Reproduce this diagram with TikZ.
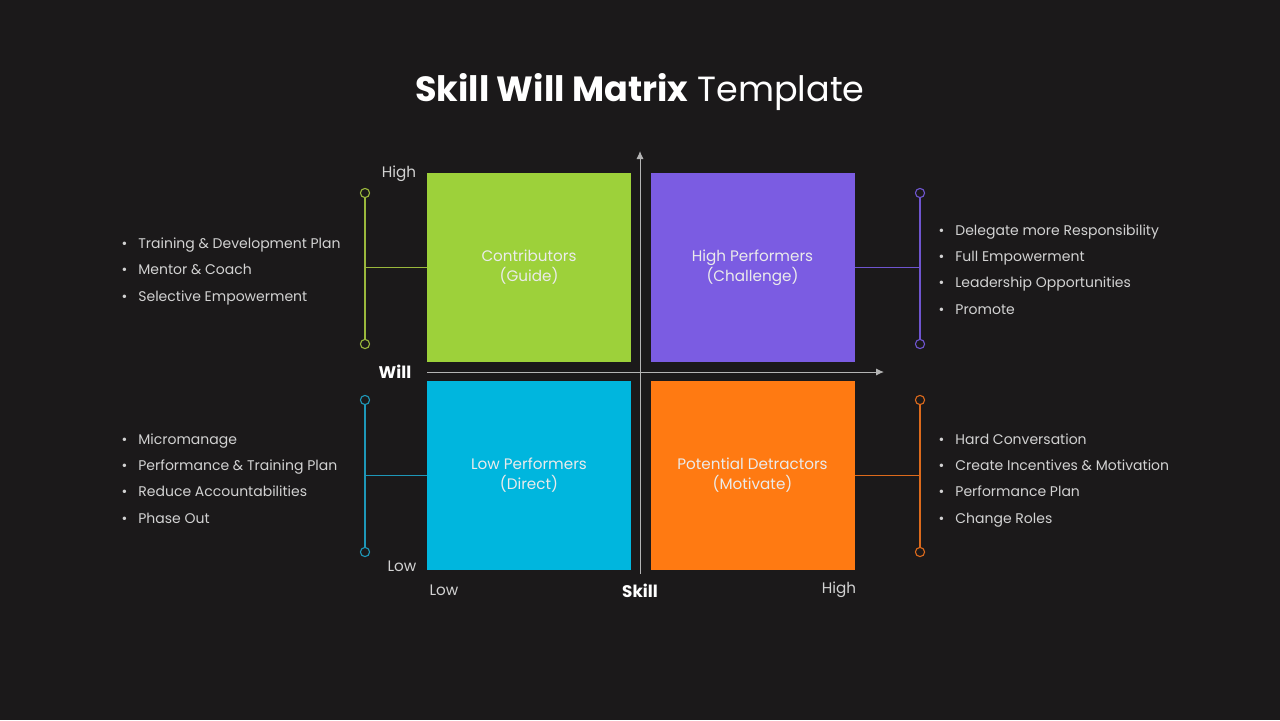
\documentclass[tikz,border=0pt]{standalone}
\usepackage{fontspec}
\setmainfont{Poppins}
\usetikzlibrary{arrows.meta}

\definecolor{bg}{HTML}{1B191A}
\definecolor{cgreen}{HTML}{9DD13A}
\definecolor{cpurple}{HTML}{7B5CE2}
\definecolor{ccyan}{HTML}{00B6DE}
\definecolor{corange}{HTML}{FF7A12}
\definecolor{lgreen}{HTML}{9AB83C}
\definecolor{lpurple}{HTML}{6F55D0}
\definecolor{lcyan}{HTML}{1E97B8}
\definecolor{lorange}{HTML}{DD6A1C}
\definecolor{txtgrey}{HTML}{D2D2D2}
\definecolor{axisgrey}{HTML}{B4B4B4}

\begin{document}
\begin{tikzpicture}[x=0.5pt,y=-0.5pt,
  quad/.style={minimum width=102pt,minimum height=94.5pt,inner sep=0pt,align=center,
    font=\fontsize{7.6}{10}\selectfont,text=white!92!black},
  axis/.style={axisgrey,line width=0.5pt,-{Latex[length=4pt,width=3.6pt]}},
  ring/.style={circle,draw,line width=0.55pt,minimum size=4.6pt,inner sep=0pt},
  link/.style={line width=0.55pt},
  item/.style={anchor=west,inner sep=0pt,text height=5.2pt,text depth=0pt,
    text=txtgrey,font=\fontsize{7.0}{9}\selectfont},
  tick/.style={inner sep=0pt,text=txtgrey,font=\fontsize{7.6}{9}\selectfont},
  axlabel/.style={inner sep=0pt,text=white,font=\fontsize{8.4}{10}\selectfont\bfseries}]

% Background
\fill[bg] (0,0) rectangle (1280,720);

% Title
\node[text=white,font=\fontsize{17.5}{21}\selectfont] (title) at (640,92)
{\textbf{Skill Will Matrix} Template};

% Quadrants
\node[quad,fill=cgreen] (contrib) at (529,267.5) {Contributors\\(Guide)};
\node[quad,fill=cpurple] (highperf) at (752.5,267.5) {High Performers\\(Challenge)};
\node[quad,fill=ccyan] (lowperf) at (529,475.5) {Low Performers\\(Direct)};
\node[quad,fill=corange] (detract) at (752.5,475.5) {Potential Detractors\\(Motivate)};

% Axes
\coordinate (skillfrom) at (427,372);
\coordinate (skillto) at (884,372);
\coordinate (willfrom) at (640,574);
\coordinate (willto) at (640,151);
\draw[axis] (skillfrom) -- (skillto);
\draw[axis] (willfrom) -- (willto);

% Axis labels
\node[tick] (willhigh) at (399,174) {High};
\node[tick] (willlow) at (402,566) {Low};
\node[axlabel] (will) at (395,372) {Will};
\node[tick] (skilllow) at (444,590) {Low};
\node[tick] (skillhigh) at (839,590) {High};
\node[axlabel] (skill) at (640,591) {Skill};

% Brackets
\node[ring,draw=lgreen] (gtop) at (365,193) {};
\node[ring,draw=lgreen] (gbot) at (365,344) {};
\draw[link,lgreen] (gtop) -- (gbot);
\draw[link,lgreen] (contrib.west) -- (contrib.west -| gtop);

\node[ring,draw=lcyan] (ctop) at (365,400) {};
\node[ring,draw=lcyan] (cbot) at (365,552) {};
\draw[link,lcyan] (ctop) -- (cbot);
\draw[link,lcyan] (lowperf.west) -- (lowperf.west -| ctop);

\node[ring,draw=lpurple] (ptop) at (920,193) {};
\node[ring,draw=lpurple] (pbot) at (920,344) {};
\draw[link,lpurple] (ptop) -- (pbot);
\draw[link,lpurple] (highperf.east) -- (highperf.east -| ptop);

\node[ring,draw=lorange] (otop) at (920,400) {};
\node[ring,draw=lorange] (obot) at (920,552) {};
\draw[link,lorange] (otop) -- (obot);
\draw[link,lorange] (detract.east) -- (detract.east -| otop);

% Action lists
\foreach \txt [count=\i] in {Training \& Development Plan,Mentor \& Coach,Selective Empowerment}
  \node[item] (gl\i) at (138,243+26.5*\i-26.5) {\llap{\textbullet\hspace{5.5pt}}\txt};
\foreach \txt [count=\i] in {Micromanage,Performance \& Training Plan,Reduce Accountabilities,Phase Out}
  \node[item] (cl\i) at (138,439+26.3*\i-26.3) {\llap{\textbullet\hspace{5.5pt}}\txt};
\foreach \txt [count=\i] in {Delegate more Responsibility,Full Empowerment,Leadership Opportunities,Promote}
  \node[item] (pl\i) at (955,230+26.3*\i-26.3) {\llap{\textbullet\hspace{5.5pt}}\txt};
\foreach \txt [count=\i] in {Hard Conversation,Create Incentives \& Motivation,Performance Plan,Change Roles}
  \node[item] (ol\i) at (955,439+26.3*\i-26.3) {\llap{\textbullet\hspace{5.5pt}}\txt};

\end{tikzpicture}
\end{document}
